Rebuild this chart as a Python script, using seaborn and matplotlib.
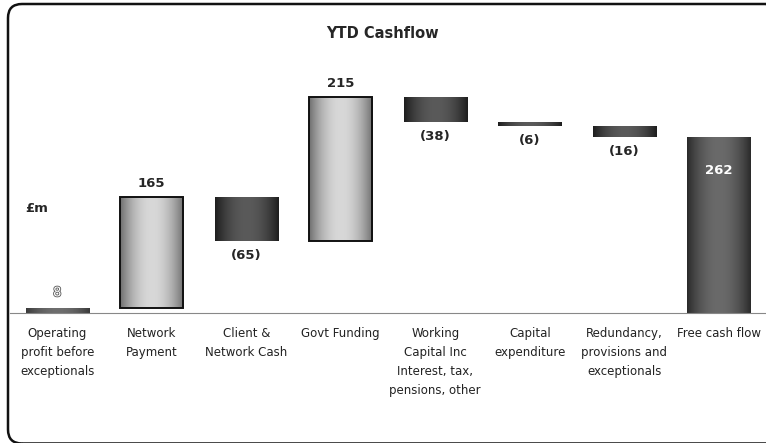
import numpy as np
import pandas as pd
import matplotlib
matplotlib.use('Agg')
import matplotlib.pyplot as plt
import seaborn as sns

from matplotlib.patches import FancyBboxPatch
from matplotlib.colors import LinearSegmentedColormap
from matplotlib.transforms import IdentityTransform
from matplotlib import patheffects as pe


# Данные водопада (млн фунтов)
categories = ['Operating profit', 'Network Payment', 'Client & Network Cash',
              'Govt Funding', 'Working Capital', 'Capital expenditure',
              'Redundancy', 'Free cash flow']
tick_labels = ['Operating\nprofit before\nexceptionals', 'Network\nPayment',
               'Client &\nNetwork Cash', 'Govt Funding',
               'Working\nCapital Inc\nInterest, tax,\npensions, other',
               'Capital\nexpenditure', 'Redundancy,\nprovisions and\nexceptionals',
               'Free cash flow']
changes = [8, 165, -65, 215, -38, -6, -16]
total = 262


def shade_bar(ax, patch, dark, light):
    # Цилиндрическая заливка: тёмные края, светлая середина
    x0, y0 = patch.get_x(), patch.get_y()
    w, h = patch.get_width(), patch.get_height()
    t = np.linspace(-1, 1, 80)
    prof = 1 - t ** 2
    cmap = LinearSegmentedColormap.from_list('bar', [dark, light])
    im = ax.imshow(prof[None, :], cmap=cmap, vmin=0, vmax=1,
                   extent=[x0, x0 + w, y0, y0 + h], aspect='auto',
                   interpolation='bicubic', zorder=2)
    im.set_clip_path(patch)


# Начало и высота каждого столбца
starts, heights = [], []
cum = 0
for v in changes:
    starts.append(min(cum, cum + v))
    heights.append(abs(v))
    cum += v
starts.append(0)
heights.append(total)

df = pd.DataFrame({'category': categories, 'height': heights})

sns.set_style('white')
plt.rcParams['font.family'] = ['DejaVu Sans']

fig = plt.figure(figsize=(7.66, 4.43), dpi=100)
ax = fig.add_axes([10 / 766, 1 - 313 / 443, 756 / 766, 268 / 443])

sns.barplot(data=df, x='category', y='height', order=categories,
            width=0.67, ax=ax, color='grey', errorbar=None)

values = changes + [total]
for i, (patch, b) in enumerate(zip(ax.patches, starts)):
    patch.set_y(b)
    patch.set_facecolor('none')
    patch.set_zorder(3)
    v = values[i]
    if i == len(values) - 1:
        shade_bar(ax, patch, '#2b2b2b', '#6a6a6a')
        patch.set_edgecolor('none')
    elif i == 0:
        shade_bar(ax, patch, '#3a3a3a', '#6e6e6e')
        patch.set_edgecolor('none')
    elif v > 0:
        shade_bar(ax, patch, '#6f6f6f', '#d8d8d8')
        patch.set_edgecolor('#111111')
        patch.set_linewidth(1.4)
    else:
        shade_bar(ax, patch, '#1e1e1e', '#5a5a5a')
        patch.set_edgecolor('none')

    cx = patch.get_x() + patch.get_width() / 2
    top = b + patch.get_height()
    if i == 0:
        ax.annotate(str(v), (cx, top), xytext=(0, 6), textcoords='offset points',
                    ha='center', va='bottom', fontsize=9.5, color='white',
                    path_effects=[pe.withStroke(linewidth=1.2, foreground='#555555')])
    elif i == len(values) - 1:
        ax.annotate(str(v), (cx, top), xytext=(0, -24), textcoords='offset points',
                    ha='center', va='center', fontsize=9.5, fontweight='bold',
                    color='white')
    elif v > 0:
        ax.annotate(str(v), (cx, top), xytext=(0, 5), textcoords='offset points',
                    ha='center', va='bottom', fontsize=9.5, fontweight='bold')
    else:
        ax.annotate(f'({abs(v)})', (cx, b), xytext=(0, -6), textcoords='offset points',
                    ha='center', va='top', fontsize=9.5, fontweight='bold')

ax.set_xlim(-0.5, len(categories) - 0.5)
ax.set_ylim(0, 400)

# Ось X: пунктир и засечки на границах категорий
for side in ['left', 'right', 'top']:
    ax.spines[side].set_visible(False)
ax.spines['bottom'].set_linestyle((0, (1, 1)))
ax.spines['bottom'].set_color('#888888')
ax.spines['bottom'].set_linewidth(0.8)
ax.set_yticks([])
ax.set_xticks(range(len(categories)))
ax.set_xticklabels(tick_labels, fontsize=8.5, color='#222222', linespacing=1.6,
                   va='top')
ax.tick_params(axis='x', which='major', length=0, pad=10)
ax.set_xticks(np.arange(-0.5, len(categories)), minor=True)
ax.tick_params(axis='x', which='minor', length=4, width=0.8, color='#888888')
ax.set_xlabel('')
ax.set_ylabel('')

fig.text(0.5, 1 - 33 / 443, 'YTD Cashflow', ha='center', va='center',
         fontsize=10.5, fontweight='bold')
fig.text(25 / 766, 1 - 208 / 443, '£m', ha='left', va='center',
         fontsize=9.5, fontweight='bold')

# Скруглённая рамка вокруг всего рисунка (в пикселях, правый и нижний края за кадром)
frame = FancyBboxPatch((8, -0.5), 772, 439.5,
                       boxstyle='round,pad=0,rounding_size=14',
                       transform=IdentityTransform(), fill=False,
                       edgecolor='#111111', linewidth=1.8)
fig.patches.append(frame)

fig.savefig('out.png', dpi=100)
